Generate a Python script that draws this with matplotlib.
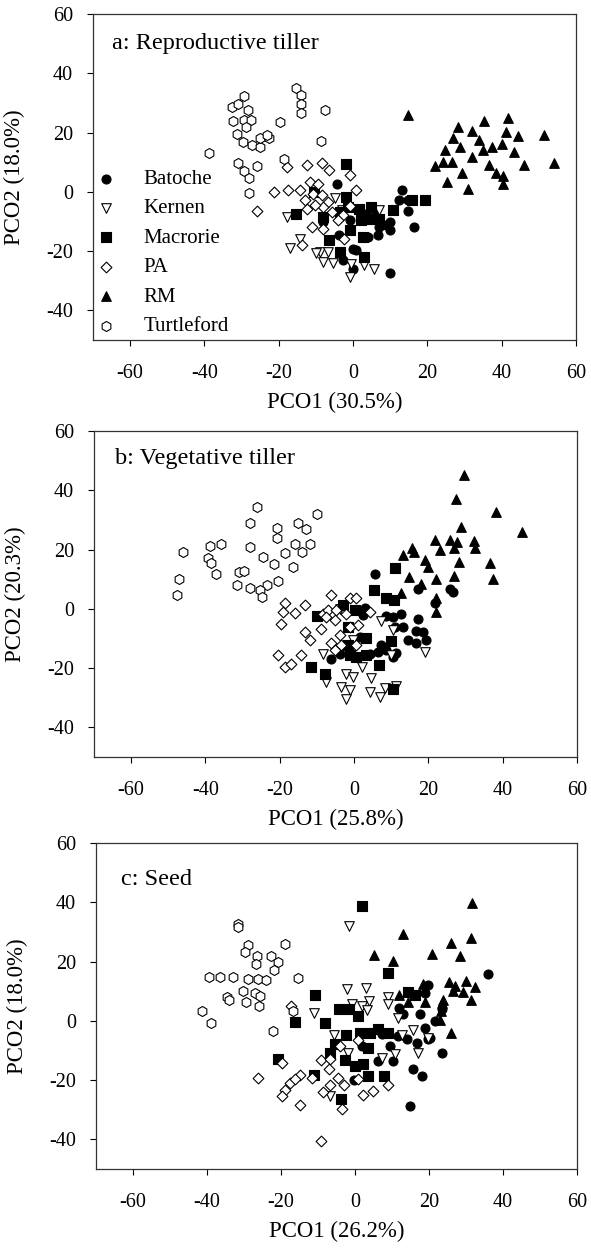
import matplotlib
matplotlib.use("Agg")
import matplotlib.pyplot as plt

plt.rcParams['font.family'] = ['Liberation Serif', 'DejaVu Serif']
plt.rcParams['axes.unicode_minus'] = False

sites = ["Batoche", "Kernen", "Macrorie", "PA", "RM", "Turtleford"]

# a: reproductive tiller
rep_batoche = [(-4.4, 2.8), (13.2, 0.5), (12.4, -2.8), (14.7, -2.8), (14.9, -6.4), (16.4, -11.9),
               (9.8, -10.2), (8.9, -11.3), (6.7, -14.7), (4.0, -15.2), (0.0, -19.2), (0.9, -19.7),
               (-2.8, -23.1), (0.0, -25.9), (10.0, -27.4), (-8.1, -10.2), (-3.7, -14.7), (7.1, -11.9),
               (-0.9, -9.6), (3.5, -7.5), (6.0, -8.0), (10.0, -13.0)]
rep_kernen = [(-17.8, -8.5), (-4.9, -2.0), (-14.3, -15.8), (-16.9, -18.8), (-8.9, -20.3), (-6.7, -20.3),
              (-8.0, -23.7), (-5.4, -24.0), (-0.5, -24.2), (3.0, -24.8), (5.7, -25.9), (-0.9, -28.7),
              (7.0, -6.2), (-10.0, -20.5), (-3.0, -6.0)]
rep_macrorie = [(-1.9, 9.3), (-15.3, -7.6), (-10.5, 0.0), (-1.9, -1.7), (-1.4, -5.1), (-3.6, -6.8),
                (1.7, -5.7), (4.8, -5.1), (2.1, -9.6), (4.4, -9.0), (7.0, -9.0), (10.7, -6.2),
                (15.9, -2.6), (19.3, -2.6), (-6.4, -16.1), (-3.6, -20.3), (3.0, -22.0), (2.6, -15.2),
                (-8.0, -8.5), (-0.9, -13.0)]
rep_pa = [(-17.8, 8.4), (-12.5, 9.0), (-8.5, 9.8), (-6.4, 7.3), (-0.9, 5.6), (0.8, 0.5), (-21.3, 0.0),
          (-17.4, 0.5), (-14.3, 0.5), (-11.6, 3.4), (-9.4, 2.8), (-10.7, -0.6), (-12.9, -2.8),
          (-8.5, -1.2), (-6.7, -3.4), (-8.0, -5.1), (-10.3, -4.5), (-12.5, -5.7), (-11.1, -11.9),
          (-8.0, -12.4), (-2.7, -7.9), (-4.1, -9.6), (-2.5, -15.8), (-13.8, -18.0), (-25.8, -6.4),
          (-0.9, -4.9), (-5.8, -6.8)]
rep_rm = [(14.7, 25.9), (28.1, 21.9), (35.1, 24.0), (41.6, 24.8), (32.1, 20.6), (41.1, 20.3),
          (44.5, 18.8), (51.3, 19.1), (26.9, 18.0), (33.8, 17.4), (40.2, 16.3), (37.4, 15.0),
          (34.9, 14.1), (24.7, 14.1), (28.7, 15.0), (43.3, 13.5), (32.0, 11.8), (24.3, 10.1),
          (26.5, 10.1), (22.1, 8.6), (54.0, 9.6), (46.0, 9.0), (36.5, 9.0), (38.5, 6.4), (40.4, 5.3),
          (29.4, 6.4), (40.4, 2.8), (25.2, 3.4), (30.9, 0.8)]
rep_turtleford = [(-38.8, 13.1), (-29.5, 32.3), (-32.6, 28.7), (-30.9, 29.6), (-28.2, 27.6),
                  (-32.4, 23.9), (-29.5, 24.2), (-27.6, 24.4), (-28.8, 21.9), (-31.3, 19.5),
                  (-29.7, 16.9), (-27.3, 15.7), (-25.1, 15.0), (-25.1, 18.0), (-22.6, 18.0),
                  (-23.3, 19.1), (-19.8, 23.6), (-15.3, 34.9), (-14.0, 32.6), (-14.0, 29.8),
                  (-14.0, 26.5), (-7.5, 27.6), (-8.7, 17.2), (-30.9, 9.6), (-25.8, 8.6), (-29.5, 7.1),
                  (-27.9, 4.8), (-27.9, -0.4), (-18.7, 11.2)]

# b: vegetative tiller
veg_batoche = [(5.5, 11.6), (2.9, 0.3), (8.7, -2.4), (10.5, -2.7), (12.7, -1.6), (17.2, -3.3),
               (13.1, -6.1), (16.7, -7.6), (18.5, -7.8), (10.9, -6.1), (14.5, -10.6), (19.4, -10.6),
               (16.7, -11.4), (7.3, -12.3), (8.7, -14.0), (11.4, -14.8), (6.4, -14.6), (4.2, -15.1),
               (10.5, -16.2), (-6.1, -16.8), (-3.9, -15.1), (17.2, 6.8), (21.7, 1.8), (2.4, -2.2),
               (1.5, -9.5), (25.7, 6.8), (26.6, 5.7)]
veg_kernen = [(-8.5, -15.1), (-7.6, -24.7), (-2.1, -21.9), (-0.3, -23.0), (4.6, -23.3), (-3.4, -26.4),
              (-1.2, -27.5), (-2.1, -30.5), (4.2, -28.1), (6.9, -29.8), (8.2, -26.7), (11.4, -26.0),
              (2.0, -19.6), (10.0, -15.7), (19.0, -14.6), (-0.3, -10.6), (7.3, -4.2), (10.5, -7.2),
              (-3.9, -0.1)]
veg_macrorie = [(10.9, 13.8), (5.3, 6.3), (8.5, 3.7), (10.6, 2.9), (-3.0, 1.2), (0.2, -0.5),
                (-10.1, -2.4), (-1.6, -6.1), (-1.2, -15.7), (0.6, -16.2), (3.3, -15.7), (6.7, -18.8),
                (-11.5, -19.6), (-7.9, -21.9), (10.5, -26.9), (10.0, -10.9), (3.3, -10.0), (-1.6, -12.3)]
veg_pa = [(-6.1, 4.6), (-1.2, 3.5), (0.6, 3.5), (-13.3, 1.4), (-18.7, 1.8), (-16.0, -1.3), (-19.1, -1.0),
          (-19.8, -5.0), (-8.3, -1.6), (-7.0, -0.5), (-4.8, -0.5), (-2.1, -1.6), (-5.2, -3.9),
          (-7.5, -2.7), (-8.8, -6.7), (-13.3, -7.8), (-11.9, -10.6), (-3.9, -8.9), (-6.1, -11.7),
          (-3.4, -12.3), (1.1, -5.5), (4.2, -1.0), (-5.2, -14.0), (-20.4, -15.7), (-18.7, -19.6),
          (-16.9, -18.5), (-14.2, -15.7), (0.6, -12.1), (-1.2, -6.1)]
veg_rm = [(29.7, 45.1), (27.3, 37.0), (38.1, 32.8), (45.2, 26.0), (28.7, 27.7), (21.7, 23.2),
          (25.7, 23.2), (27.7, 22.6), (32.2, 22.8), (15.7, 20.6), (23.0, 19.8), (26.8, 20.4),
          (32.4, 20.4), (13.2, 18.3), (16.0, 19.0), (19.2, 16.4), (19.9, 14.2), (28.2, 15.9),
          (36.6, 15.6), (14.8, 10.8), (22.1, 10.2), (26.8, 11.1), (37.5, 10.2), (18.1, 8.5),
          (12.7, 5.2), (22.1, 3.5), (22.1, -1.0)]
veg_turtleford = [(-26.2, 34.4), (-28.0, 29.1), (-20.8, 27.1), (-20.8, 24.0), (-18.6, 18.7),
                  (-28.0, 20.9), (-24.4, 17.5), (-21.5, 15.0), (-35.9, 21.7), (-38.9, 21.2),
                  (-39.4, 17.2), (-38.6, 15.3), (-37.1, 11.9), (-46.1, 19.0), (-47.0, 10.0),
                  (-47.7, 4.6), (-31.1, 12.5), (-29.6, 12.7), (-31.4, 8.0), (-28.0, 6.9), (-23.5, 8.0),
                  (-20.6, 9.3), (-25.3, 6.3), (-24.9, 4.0), (-16.4, 14.2), (-10.0, 32.0),
                  (-15.0, 29.0), (-13.0, 27.0), (-16.0, 22.0), (-14.0, 19.0), (-12.0, 22.0)]

# c: seed
seed_batoche = [(36.0, 15.8), (19.8, 12.1), (18.9, 9.4), (11.9, 4.2), (17.6, 2.3), (13.1, 2.3),
                (21.6, 0.0), (23.4, 3.9), (18.9, -2.3), (19.8, -6.0), (14.0, -6.2), (16.7, -7.3),
                (23.6, -10.7), (10.4, -13.6), (6.1, -13.6), (15.8, -16.4), (18.0, -18.6), (14.9, -28.8),
                (3.6, -9.0), (1.8, -8.5), (9.5, -8.5), (11.7, -5.1), (-0.4, -19.8), (7.2, -4.5),
                (20.3, -5.7)]
seed_kernen = [(-1.6, 32.0), (-2.2, 10.7), (2.9, 11.0), (3.8, 6.8), (-0.9, 5.7), (1.8, 5.1), (-11.0, 2.6),
               (3.2, 3.7), (8.8, 8.2), (8.8, 5.6), (11.5, 1.1), (-5.6, -4.9), (12.6, -4.9), (15.8, -3.1),
               (19.6, -5.7), (17.1, -11.0), (10.8, -11.3), (7.2, -12.4), (-1.8, -10.7), (-6.7, -25.4)]
seed_macrorie = [(1.8, 38.8), (8.8, 16.2), (-10.8, 8.7), (-4.3, 4.0), (-1.6, 4.0), (0.7, 1.5),
                 (-16.2, -0.3), (-8.1, -0.8), (-2.3, -4.9), (-5.4, -7.9), (-6.7, -10.7), (-2.7, -13.2),
                 (0.0, -15.3), (2.3, -14.7), (3.6, -18.6), (7.9, -18.6), (-20.9, -13.0), (-11.0, -18.4),
                 (-3.8, -26.3), (4.1, -4.0), (6.1, -2.8), (9.0, -4.0), (3.6, -9.0), (14.4, 9.6),
                 (16.2, 8.7), (1.4, -4.0)]
seed_pa = [(-26.1, -19.2), (-19.6, -14.1), (-14.9, -18.4), (-17.6, -20.9), (-18.9, -23.4), (-19.6, -25.4),
           (-14.9, -28.3), (-11.5, -19.2), (-9.2, -13.2), (-6.7, -12.8), (-7.0, -16.4), (-4.7, -19.2),
           (-6.7, -21.5), (-2.9, -21.8), (-8.6, -24.1), (-3.6, -29.9), (0.7, -19.5), (2.3, -24.9),
           (5.0, -23.7), (9.0, -21.5), (0.7, -6.4), (-4.0, -8.5), (-9.2, -40.7), (-16.2, -19.5),
           (-17.3, 5.1)]
seed_rm = [(31.5, 39.9), (13.1, 29.4), (31.4, 27.9), (26.0, 26.3), (5.2, 22.3), (10.4, 20.3), (20.9, 22.6),
           (28.4, 21.8), (25.4, 13.2), (29.9, 13.6), (32.3, 11.3), (27.0, 11.6), (29.3, 9.6), (31.4, 7.1),
           (11.9, 8.7), (14.4, 6.2), (18.9, 6.4), (23.4, 6.0), (23.9, 7.1), (23.2, 3.4), (22.9, 0.3),
           (25.9, -4.0), (18.5, 12.4), (26.6, 10.2)]
seed_turtleford = [(-31.5, 32.8), (-31.5, 31.6), (-29.0, 25.7), (-29.7, 23.2), (-26.6, 22.0),
                   (-26.8, 19.2), (-22.7, 21.8), (-20.9, 20.0), (-21.8, 17.0), (-18.9, 26.0),
                   (-39.5, 14.7), (-36.5, 14.7), (-32.9, 14.7), (-28.8, 14.1), (-26.3, 14.1),
                   (-24.1, 13.9), (-15.3, 14.4), (-30.2, 10.2), (-27.0, 9.4), (-25.7, 8.5), (-34.7, 7.9),
                   (-34.0, 7.1), (-29.5, 6.4), (-25.9, 5.1), (-41.3, 3.4), (-38.9, -0.6), (-22.1, -3.4),
                   (-16.7, 3.4)]

panel_titles = ["a: Reproductive tiller", "b: Vegetative tiller", "c: Seed"]
x_labels = ["PCO1 (30.5%)", "PCO1 (25.8%)", "PCO1 (26.2%)"]
y_labels = ["PCO2 (18.0%)", "PCO2 (20.3%)", "PCO2 (18.0%)"]
x_ticks = [-60, -40, -20, 0, 20, 40, 60]
y_ticks = [-40, -20, 0, 20, 40, 60]

panels = [
    [rep_batoche, rep_kernen, rep_macrorie, rep_pa, rep_rm, rep_turtleford],
    [veg_batoche, veg_kernen, veg_macrorie, veg_pa, veg_rm, veg_turtleford],
    [seed_batoche, seed_kernen, seed_macrorie, seed_pa, seed_rm, seed_turtleford],
]

# marker, facecolor, size (points^2)
styles = [("o", "black", 42), ("v", "white", 48), ("s", "black", 44),
          ("D", "white", 30), ("^", "black", 48), ("h", "white", 52)]

fig = plt.figure(figsize=(5.91, 12.51), dpi=100)
boxes = [[0.1574, 0.7282, 0.8173, 0.2606],
         [0.1591, 0.3949, 0.8173, 0.2606],
         [0.1624, 0.0655, 0.8139, 0.2606]]
title_pos = [(0.039, 0.911), (0.044, 0.916), (0.053, 0.887)]

for i in range(3):
    ax = fig.add_axes(boxes[i])
    for pts, name, (mk, fc, sz) in zip(panels[i], sites, styles):
        xs = [p[0] for p in pts]
        ys = [p[1] for p in pts]
        ax.scatter(xs, ys, marker=mk, s=sz, facecolor=fc, edgecolor="black",
                   linewidths=0.8, label=name, zorder=3)
    ax.set_xlim(-70, 60)
    ax.set_ylim(-50, 60)
    ax.set_xticks(x_ticks)
    ax.set_yticks(y_ticks)
    ax.tick_params(direction="out", length=4.5, width=0.8, labelsize=14.5,
                   top=False, right=False)
    ax.tick_params(axis="x", pad=13)
    ax.tick_params(axis="y", pad=10)
    for sp in ax.spines.values():
        sp.set_linewidth(0.9)
        sp.set_color("#333333")
    ax.set_xlabel(x_labels[i], fontsize=16.5, labelpad=6)
    ax.set_ylabel(y_labels[i], fontsize=16.5)
    ax.yaxis.set_label_coords(-0.141, 0.5)
    ax.text(title_pos[i][0], title_pos[i][1], panel_titles[i], transform=ax.transAxes,
            fontsize=17.5, ha="left", va="center")
    if i == 0:
        ax.legend(loc="upper left", bbox_to_anchor=(0.005, 0.523), frameon=False,
                  fontsize=15, scatterpoints=1, handlelength=1.0, handletextpad=1.3,
                  labelspacing=0.47, borderpad=0, borderaxespad=0)

fig.savefig("out.png", dpi=100)
